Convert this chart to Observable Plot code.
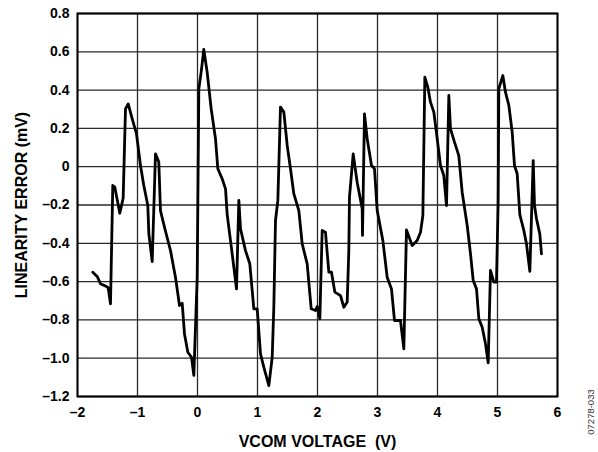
<!DOCTYPE html>
<html>
<head>
<meta charset="utf-8">
<script src="https://cdn.jsdelivr.net/npm/d3@7"></script>
<script src="https://cdn.jsdelivr.net/npm/@observablehq/plot@0.6"></script>
<style>
  html, body { margin: 0; padding: 0; background: #fff; }
  svg { display: block; }
</style>
</head>
<body>
<div id="chart"></div>
<script>
const vcom = [-1.745,-1.672,-1.617,-1.517,-1.489,-1.45,-1.412,-1.378,-1.295,-1.239,-1.2,-1.155,-1.088,-1.017,-0.95,-0.895,-0.828,-0.811,-0.755,-0.7,-0.645,-0.617,-0.55,-0.45,-0.367,-0.3,-0.255,-0.217,-0.161,-0.1,-0.061,-0.005,0.022,0.061,0.105,0.161,0.228,0.3,0.339,0.411,0.467,0.495,0.578,0.65,0.689,0.717,0.8,0.872,0.939,0.995,1.05,1.105,1.189,1.245,1.272,1.3,1.339,1.383,1.439,1.495,1.55,1.605,1.689,1.745,1.828,1.895,1.967,1.995,2.039,2.078,2.133,2.189,2.233,2.289,2.383,2.439,2.495,2.522,2.533,2.595,2.661,2.745,2.75,2.783,2.828,2.9,2.95,2.995,3.089,3.161,3.233,3.283,3.383,3.439,3.483,3.578,3.661,3.717,3.756,3.789,3.839,3.883,3.939,3.995,4.05,4.105,4.15,4.189,4.217,4.283,4.355,4.411,4.495,4.55,4.595,4.65,4.689,4.745,4.8,4.845,4.883,4.939,4.983,5.011,5.022,5.089,5.133,5.189,5.245,5.283,5.328,5.372,5.439,5.483,5.539,5.595,5.617,5.65,5.705,5.733];
const linErr = [-0.551,-0.573,-0.611,-0.626,-0.632,-0.716,-0.098,-0.107,-0.243,-0.164,0.302,0.328,0.25,0.172,0.006,-0.098,-0.203,-0.35,-0.495,0.067,0.024,-0.229,-0.316,-0.438,-0.577,-0.725,-0.713,-0.873,-0.969,-0.995,-1.09,-0.577,0.407,0.494,0.612,0.494,0.302,0.146,-0.011,-0.063,-0.116,-0.25,-0.455,-0.638,-0.176,-0.324,-0.438,-0.507,-0.742,-0.742,-0.977,-1.047,-1.143,-0.995,-0.734,-0.281,-0.176,0.311,0.285,0.111,-0.011,-0.141,-0.229,-0.403,-0.507,-0.742,-0.751,-0.73,-0.794,-0.333,-0.342,-0.551,-0.551,-0.655,-0.673,-0.734,-0.707,-0.438,-0.159,0.067,-0.081,-0.22,-0.359,0.276,0.146,0.006,-0.011,-0.229,-0.385,-0.577,-0.638,-0.803,-0.803,-0.951,-0.33,-0.411,-0.385,-0.342,-0.255,0.467,0.415,0.337,0.285,0.146,0.006,-0.046,-0.203,0.372,0.198,0.128,0.058,-0.133,-0.307,-0.455,-0.594,-0.638,-0.794,-0.838,-0.925,-1.024,-0.542,-0.603,-0.603,-0.176,0.407,0.476,0.389,0.32,0.18,0.006,-0.037,-0.25,-0.333,-0.403,-0.546,0.032,-0.203,-0.272,-0.351,-0.455];
const xTicks = [-2,-1,0,1,2,3,4,5,6];
const yTicks = [-1.2,-1.0,-0.8,-0.6,-0.4,-0.2,0,0.2,0.4,0.6,0.8];
const xLabel = "VCOM VOLTAGE\u00a0 (V)";
const yLabel = "LINEARITY ERROR (mV)";
const figNote = "07278-033";

const data = vcom.map((v, i) => ({x: v, y: linErr[i]}));
const dash = s => s.replace(/^[-\u2212]/, "\u2013");
const fmtY = d => d === 0 ? "0" : dash(d3.format(".1f")(d));
const fmtX = d => dash(String(d));

const chart = Plot.plot({
  width: 598,
  height: 452,
  marginLeft: 77,
  marginRight: 41,
  marginTop: 13,
  marginBottom: 56,
  style: {fontFamily: "'Liberation Sans', Arial, sans-serif", fontSize: "14px", fontWeight: "bold", color: "#000", background: "#fff"},
  x: {domain: [-2, 6]},
  y: {domain: [-1.2, 0.8]},
  marks: [
    Plot.gridX(xTicks, {stroke: "#2a2a2a", strokeOpacity: 1, strokeWidth: 1.3}),
    Plot.gridY(yTicks, {stroke: "#2a2a2a", strokeOpacity: 1, strokeWidth: 1.3}),
    Plot.frame({stroke: "#000", strokeWidth: 2}),
    Plot.axisX(xTicks, {tickSize: 0, tickPadding: 11, tickFormat: fmtX, fontSize: 14, label: null}),
    Plot.axisX({label: xLabel, labelAnchor: "center", labelArrow: "none", labelOffset: 50, fontSize: 16, ticks: [], tickSize: 0}),
    Plot.axisY(yTicks, {tickSize: 0, tickPadding: 8, tickFormat: fmtY, fontSize: 14, label: null}),
    Plot.axisY({label: yLabel, labelAnchor: "center", labelArrow: "none", labelOffset: 62, fontSize: 16, ticks: [], tickSize: 0}),
    Plot.line(data, {x: "x", y: "y", stroke: "#000", strokeWidth: 2.8, strokeLinejoin: "round", curve: "linear"})
  ]
});

const svg = d3.select(chart);
svg.append("text")
  .attr("transform", "translate(594,412) rotate(-90)")
  .attr("text-anchor", "middle")
  .style("font-family", "'Liberation Sans', Arial, sans-serif")
  .style("font-size", "9.5px")
  .style("font-weight", "normal")
  .attr("fill", "#333")
  .text(figNote);

document.getElementById("chart").appendChild(chart);
</script>
</body>
</html>
